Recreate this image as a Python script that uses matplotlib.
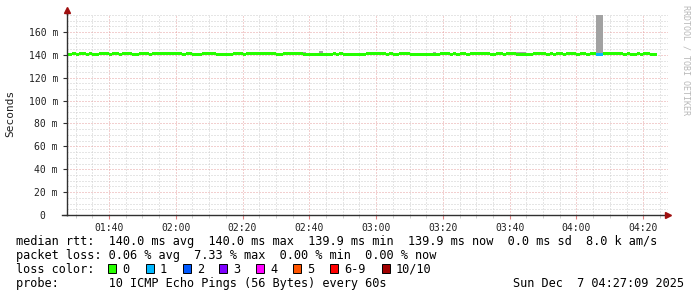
import matplotlib
matplotlib.use('Agg')
import matplotlib.pyplot as plt
import numpy as np
from matplotlib.patches import Rectangle
from matplotlib.ticker import MultipleLocator, FixedLocator, FuncFormatter

# ---------------- data ----------------
start_minute = 87          # first 1-minute bin (minutes since midnight)
median_ms = [
    140.0, 140.0, 140.9, 140.0, 140.9, 140.9, 140.0, 140.9, 140.0, 140.0,
    140.9, 140.9, 140.9, 140.0, 140.9, 140.9, 140.0, 140.9, 140.9, 140.9,
    140.0, 140.0, 140.9, 140.9, 140.9, 140.0, 140.9, 140.9, 140.9, 140.9,
    140.9, 140.9, 140.9, 140.9, 140.9, 140.0, 140.9, 140.9, 140.0, 140.0,
    140.0, 140.9, 140.9, 140.9, 140.9, 140.0, 140.0, 140.0, 140.0, 140.0,
    140.9, 140.9, 140.9, 140.0, 140.9, 140.9, 140.9, 140.9, 140.9, 140.9,
    140.9, 140.9, 140.9, 140.0, 140.0, 140.9, 140.9, 140.9, 140.9, 140.9,
    140.9, 140.0, 140.0, 140.0, 140.0, 140.0, 140.0, 140.0, 140.0, 140.0,
    140.9, 140.0, 140.9, 140.0, 140.0, 140.0, 140.0, 140.0, 140.0, 140.0,
    140.9, 140.9, 140.9, 140.9, 140.9, 140.9, 140.0, 140.9, 140.0, 140.0,
    140.9, 140.9, 140.9, 140.0, 140.0, 140.0, 140.0, 140.0, 140.0, 140.0,
    140.0, 140.0, 140.9, 140.9, 140.9, 140.0, 140.9, 140.0, 140.9, 140.9,
    140.0, 140.9, 140.9, 140.9, 140.9, 140.9, 140.9, 140.0, 140.0, 140.9,
    140.9, 140.0, 140.9, 140.9, 140.9, 140.0, 140.0, 140.0, 140.0, 140.0,
    140.9, 140.9, 140.9, 140.9, 140.0, 140.9, 140.0, 140.9, 140.9, 140.0,
    140.9, 140.9, 140.9, 140.0, 140.9, 140.9, 140.0, 140.9, 140.9, 140.0,
    140.0, 140.9, 140.9, 140.9, 140.9, 140.9, 140.9, 140.0, 140.9, 140.0,
    140.0, 140.9, 140.0, 140.9, 140.9, 140.0, 140.0,
]
loss_minutes = [246, 247]
loss_counts = [1, 1]
smoke_minutes = [157, 158, 163, 179, 197, 199, 200, 222, 223, 224, 246, 247]
smoke_top_ms = [142.2, 142.2, 143.1, 142.2, 142.2, 142.2, 142.2, 142.2, 142.2, 142.2, 175.0, 175.0]

loss_labels = ['0', '1', '2', '3', '4', '5', '6-9', '10/10']
loss_colors = ['#26ff00', '#00b8ff', '#0059ff', '#7e00ff', '#ff00ff', '#ff5500', '#ff0000', '#a10000']

x_start, x_end = 87.42, 267.42
y_top = 175.7
x_major = [100, 120, 140, 160, 180, 200, 220, 240, 260]
y_major = [0, 20, 40, 60, 80, 100, 120, 140, 160]
y_labels = ['0  ', '20 m', '40 m', '60 m', '80 m', '100 m', '120 m', '140 m', '160 m']

legend_rows = [
    'median rtt:  140.0 ms avg  140.0 ms max  139.9 ms min  139.9 ms now  0.0 ms sd  8.0 k am/s',
    'packet loss: 0.06 % avg  7.33 % max  0.00 % min  0.00 % now',
    'loss color:',
    'probe:       10 ICMP Echo Pings (56 Bytes) every 60s',
]
date_text = 'Sun Dec  7 04:27:09 2025'

# ---------------- figure ----------------
W, H = 697, 297
fig = plt.figure(figsize=(W / 100, H / 100), dpi=100)
fig.patch.set_facecolor('white')
L, R, B, T = 67, 668, 215, 14
ax = fig.add_axes([L / W, 1 - B / H, (R - L) / W, (B - T) / H])
ax.set_facecolor('white')
MONO = 'DejaVu Sans Mono'

minutes = start_minute + np.arange(len(median_ms))
loss_of = dict(zip(loss_minutes, loss_counts))

def loss_color(n):
    if n <= 5:
        return loss_colors[n]
    if n < 10:
        return loss_colors[6]
    return loss_colors[7]

# smoke
smoke_bottom = [median_ms[m - start_minute] for m in smoke_minutes]
ax.bar(smoke_minutes, np.array(smoke_top_ms) - np.array(smoke_bottom), bottom=smoke_bottom,
       width=1.0, align='edge', color='#a2a2a2', linewidth=0, zorder=3)

# median line (3 px thick)
line_h = 3 / ((B - T) / y_top)
colors = [loss_color(loss_of.get(m, 0)) for m in minutes]
ax.bar(minutes, [line_h] * len(minutes), bottom=np.array(median_ms) - line_h / 2,
       width=1.0, align='edge', color=colors, linewidth=0, zorder=4)

ax.set_xlim(x_start, x_end)
ax.set_ylim(0, y_top)

ax.xaxis.set_major_locator(FixedLocator(x_major))
ax.xaxis.set_minor_locator(MultipleLocator(5))
ax.xaxis.set_major_formatter(FuncFormatter(lambda v, p: f'{int(v) // 60:02d}:{int(v) % 60:02d}'))
ax.yaxis.set_major_locator(FixedLocator(y_major))
ax.yaxis.set_minor_locator(MultipleLocator(5))
ax.set_yticklabels(y_labels)

dots = (0, (1, 2))
ax.grid(which='minor', color='#cdcdcd', linestyle=dots, linewidth=0.72)
ax.grid(which='major', color='#e6a0a0', linestyle=dots, linewidth=0.72)
ax.set_axisbelow(True)

for s in ['top', 'right']:
    ax.spines[s].set_visible(False)
for s in ['left', 'bottom']:
    ax.spines[s].set_color('#303030')
    ax.spines[s].set_linewidth(1.0)
    ax.spines[s].set_zorder(6)

ax.tick_params(axis='x', which='major', length=3, color='#e08080', pad=3,
               labelsize=7, labelfontfamily=MONO, labelcolor='#202020')
ax.tick_params(axis='x', which='minor', length=2, color='#c8c8c8')
ax.tick_params(axis='y', which='major', length=3, color='#303030', pad=3.5,
               labelsize=7, labelfontfamily=MONO, labelcolor='#202020')
ax.tick_params(axis='y', which='minor', length=0)

# axis arrows
ax.plot([0, 0], [1, 1.02], transform=ax.transAxes, color='#303030', lw=1.0, clip_on=False, zorder=6)
ax.plot([0], [1.02], marker='^', markersize=4, color='#a01010', transform=ax.transAxes, clip_on=False, zorder=7)
ax.plot([1.0], [0], marker='>', markersize=4, color='#a01010', transform=ax.transAxes, clip_on=False, zorder=7)
ax.plot([-0.008, 0], [0, 0], transform=ax.transAxes, color='#303030', lw=1.0, clip_on=False, zorder=6)

# labels
fig.text(10 / W, 1 - 113 / H, 'Seconds', rotation=90, ha='center', va='center',
         fontsize=8, family=MONO, color='#202020')
fig.text(686 / W, 1 - 60 / H, 'RRDTOOL / TOBI OETIKER', rotation=270, ha='center', va='center',
         fontsize=6, family=MONO, color='#b8b8b8')

# legend rows
baselines = [245, 259, 273, 287]
for txt, yb in zip(legend_rows, baselines):
    fig.text(16 / W, 1 - yb / H, txt, ha='left', va='baseline', fontsize=8.6, family=MONO, color='black')
fig.text(513 / W, 1 - 287 / H, date_text, ha='left', va='baseline', fontsize=8.6, family=MONO, color='black')

sq_x = [108, 146, 183, 219, 256, 293, 330, 382]
for xs, lab, c in zip(sq_x, loss_labels, loss_colors):
    fig.add_artist(Rectangle((xs / W, 1 - 273 / H), 8 / W, 9 / H, transform=fig.transFigure,
                             facecolor=c, edgecolor='black', linewidth=0.7))
    fig.text((xs + 14) / W, 1 - 273 / H, lab, ha='left', va='baseline', fontsize=8.6, family=MONO, color='black')

fig.savefig('out.png', dpi=100, facecolor='white')
